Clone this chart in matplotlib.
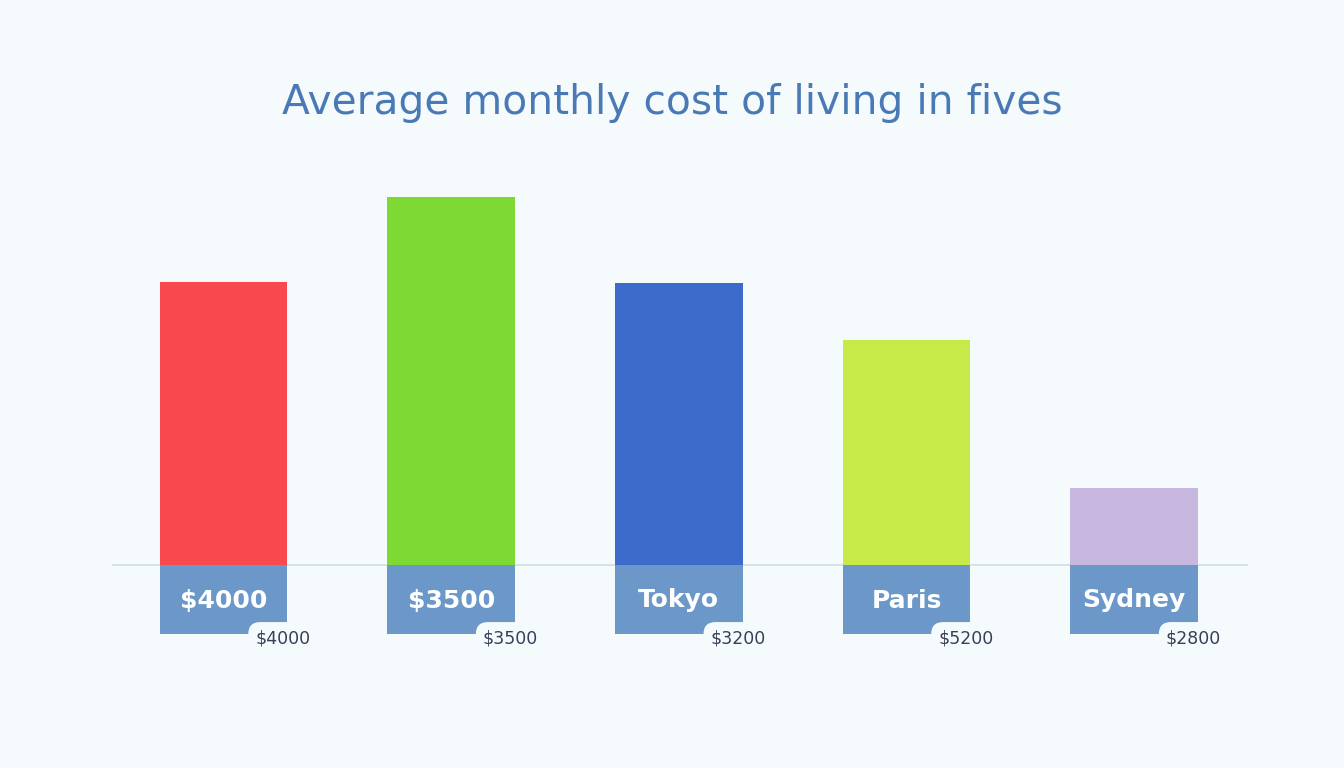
import numpy as np
import matplotlib
matplotlib.use("Agg")
from matplotlib import pyplot as plt

# bar heights as drawn (relative units), labels shown under each bar
bar_heights = [283, 368, 282, 225, 77]
box_labels = ["$4000", "$3500", "Tokyo", "Paris", "Sydney"]
value_labels = ["$4000", "$3500", "$3200", "$5200", "$2800"]
bar_colors = ["#f84a4e", "#7fd934", "#3d6bcc", "#c8ea48", "#c8b7de"]

title = "Average monthly cost of living in fives"

bg = "#f5fbfd"
box_color = "#6b98c8"
box_depth = 69

fig = plt.figure(figsize=(13.44, 7.68), dpi=100, facecolor=bg)
ax = fig.add_axes([112 / 1344, (768 - 650) / 768, 1136 / 1344, 500 / 768])
ax.set_facecolor(bg)

x = np.arange(len(bar_heights))
width = 0.56
ax.bar(x, bar_heights, width=width, color=bar_colors, zorder=2)
ax.bar(x, [-box_depth] * len(x), width=width, color=box_color, zorder=2)
ax.axhline(0, color="#d3dce5", lw=1.2, zorder=1)

for i in x:
    ax.text(i, -box_depth / 2 - 1, box_labels[i], ha="center", va="center",
            color="white", fontsize=18, fontweight="bold", family="DejaVu Sans", zorder=3)
    ax.text(i + width / 2 - 0.02, -box_depth - 4, value_labels[i], ha="center", va="center",
            color="#3a3f58", fontsize=12.5, family="DejaVu Sans", zorder=4,
            bbox=dict(boxstyle="round,pad=0.4,rounding_size=0.7", fc=bg, ec="none"))

ax.set_xlim(-0.49, 4.5)
ax.set_ylim(-85, 415)
ax.axis("off")

fig.text(0.5, 1 - 103 / 768, title, ha="center", va="center", color="#4a7ab5",
         fontsize=29.3, family="DejaVu Sans")

fig.savefig("out.png", dpi=100, facecolor=bg)
